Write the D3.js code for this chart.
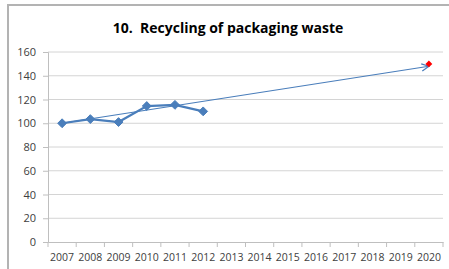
<!DOCTYPE html>
<html>
<head>
<meta charset="utf-8">
<script src="https://cdn.jsdelivr.net/npm/d3@7"></script>
<style>
  html, body { margin: 0; padding: 0; background: #fff; }
  svg { display: block; }
</style>
</head>
<body>
<svg id="chart" width="449" height="269"></svg>
<script>
const title = "10.  Recycling of packaging waste";
const years = ["2007","2008","2009","2010","2011","2012","2013","2014","2015","2016","2017","2018","2019","2020"];
const actualYears = ["2007","2008","2009","2010","2011","2012"];
const actualValues = [100, 103.5, 101, 114.5, 115.5, 110];
const targetYear = ["2020"];
const targetValue = [150];
const trendYears = ["2007","2020"];
const trendValues = [100, 148];
const yTicks = [0, 20, 40, 60, 80, 100, 120, 140, 160];

const svg = d3.select("#chart");
const W = 449, H = 269;
const m = { left: 48, right: 6, top: 52, bottom: 27 };

// outer frame (cropped)
svg.append("path")
  .attr("d", `M8,${H} L8,5 L${W},5`)
  .attr("fill", "none").attr("stroke", "#b3b3b3").attr("stroke-width", 2);

const x = d3.scaleBand().domain(years).range([m.left, W - m.right]);
const y = d3.scaleLinear().domain([0, 160]).range([H - m.bottom, m.top]);

const font = "'Open Sans', 'Liberation Sans', sans-serif";

// gridlines
svg.append("g")
  .selectAll("line").data(yTicks.filter(d => d > 0)).join("line")
  .attr("x1", m.left).attr("x2", W - m.right)
  .attr("y1", d => y(d)).attr("y2", d => y(d))
  .attr("stroke", "#d4d4d4").attr("stroke-width", 1);

// y axis
const yAxis = svg.append("g")
  .attr("transform", `translate(${m.left},0)`)
  .call(d3.axisLeft(y).tickValues(yTicks).tickSize(5).tickPadding(7));
yAxis.select(".domain").attr("stroke", "#bfbfbf");
yAxis.selectAll(".tick line").attr("stroke", "#bfbfbf");
yAxis.selectAll("text").attr("font-family", font).attr("font-size", 11).attr("fill", "#404040");

// x axis
const xAxis = svg.append("g")
  .attr("transform", `translate(0,${y(0)})`)
  .call(d3.axisBottom(x).tickSize(0).tickPadding(12));
xAxis.select(".domain").attr("stroke", "#bfbfbf");
xAxis.selectAll("text").attr("font-family", font).attr("font-size", 10.5).attr("fill", "#404040");
// category boundary ticks
const bounds = years.map(d => x(d)).concat([x(years[years.length - 1]) + x.bandwidth()]);
svg.append("g").selectAll("line").data(bounds).join("line")
  .attr("x1", d => d).attr("x2", d => d)
  .attr("y1", y(0)).attr("y2", y(0) + 5)
  .attr("stroke", "#bfbfbf");

const cx = d => x(d) + x.bandwidth() / 2;

// arrow marker
const defs = svg.append("defs");
defs.append("marker")
  .attr("id", "arrow").attr("viewBox", "0 0 10 10")
  .attr("refX", 9).attr("refY", 5)
  .attr("markerWidth", 9).attr("markerHeight", 9)
  .attr("markerUnits", "userSpaceOnUse")
  .attr("orient", "auto")
  .append("path").attr("d", "M1,1 L9,5 L1,9")
  .attr("fill", "none").attr("stroke", "#4a7ebb").attr("stroke-width", 1.4);

// trend line
svg.append("path")
  .datum(trendYears.map((d, i) => [cx(d), y(trendValues[i])]))
  .attr("d", d3.line())
  .attr("fill", "none").attr("stroke", "#4a7ebb").attr("stroke-width", 1.2)
  .attr("marker-end", "url(#arrow)");

// actual series
const pts = actualYears.map((d, i) => [cx(d), y(actualValues[i])]);
svg.append("path").datum(pts).attr("d", d3.line())
  .attr("fill", "none").attr("stroke", "#4a7ebb").attr("stroke-width", 2.2);
svg.append("g").selectAll("path").data(pts).join("path")
  .attr("transform", d => `translate(${d[0]},${d[1]})`)
  .attr("d", d3.symbol(d3.symbolDiamond2, 50))
  .attr("fill", "#4a7ebb").attr("stroke", "#4a7ebb").attr("stroke-width", 1);

// target marker
svg.append("g").selectAll("path").data(targetYear).join("path")
  .attr("transform", (d, i) => `translate(${cx(d)},${y(targetValue[i])})`)
  .attr("d", d3.symbol(d3.symbolDiamond2, 30))
  .attr("fill", "#ff0000");

// title
svg.append("text")
  .attr("x", 228).attr("y", 33)
  .attr("text-anchor", "middle")
  .style("white-space", "pre")
  .attr("font-family", font).attr("font-weight", "bold").attr("font-size", 14)
  .attr("fill", "#000")
  .text(title);
</script>
</body>
</html>
